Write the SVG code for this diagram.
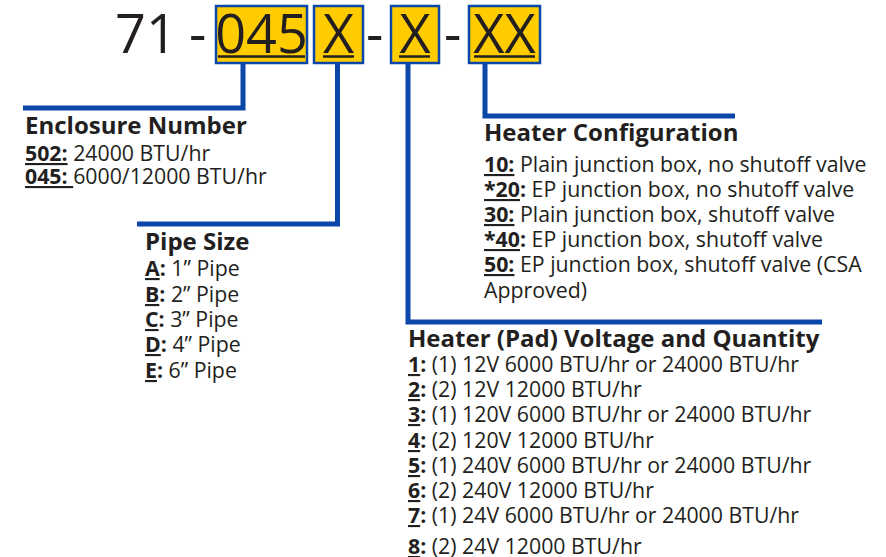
<svg xmlns="http://www.w3.org/2000/svg" width="886" height="557" viewBox="0 0 886 557">
<style>
text{font-family:"Open Sans","Noto Sans","DejaVu Sans",sans-serif;fill:#231f20}
.big{font-size:54px}
.box{fill:#ffcc00;stroke:#0a47a8;stroke-width:2.5}
.ul{stroke:#231f20;stroke-width:2.5}
.h{font-size:24px;font-weight:bold}
.b{font-size:21.3px}
.k{font-weight:bold;text-decoration:underline}
.con{fill:none;stroke:#0a47a8;stroke-width:5}
</style>
<rect width="886" height="557" fill="#fff"/>
<g id="code">
<text class="big" x="115" y="53">71</text>
<text class="big" x="189" y="53">-</text>
<text class="big" x="366" y="53">-</text>
<text class="big" x="444" y="53">-</text>
</g>
<g id="box-enclosure">
<rect class="box" x="216" y="6" width="91" height="57"/>
<text class="big" x="261.5" y="53" text-anchor="middle">045</text>
<line class="ul" x1="218" y1="56.5" x2="305" y2="56.5"/>
</g>
<g id="box-pipe">
<rect class="box" x="314" y="6" width="49" height="57"/>
<text class="big" x="338.5" y="53" text-anchor="middle">X</text>
<line class="ul" x1="323" y1="56.5" x2="354" y2="56.5"/>
</g>
<g id="box-voltage">
<rect class="box" x="391" y="6" width="48" height="57"/>
<text class="big" x="415" y="53" text-anchor="middle">X</text>
<line class="ul" x1="399" y1="56.5" x2="430" y2="56.5"/>
</g>
<g id="box-config">
<rect class="box" x="469" y="6" width="71" height="57"/>
<text class="big" x="504.5" y="53" text-anchor="middle">XX</text>
<line class="ul" x1="474" y1="56.5" x2="535" y2="56.5"/>
</g>
<g id="connectors">
<polyline class="con" points="243,64 243,108 23,108"/>
<polyline class="con" points="337.5,64 337.5,224 137,224"/>
<polyline class="con" points="408,64 408,322 822,322"/>
<polyline class="con" points="485,64 485,116 735,116"/>
</g>
<g id="enclosure-number">
<text class="h" x="25" y="134">Enclosure Number</text>
<text class="b" x="25" y="161"><tspan class="k">502:</tspan> 24000 BTU/hr</text>
<text class="b" x="25" y="184"><tspan class="k">045: </tspan>6000/12000 BTU/hr</text>
</g>
<g id="pipe-size">
<text class="h" x="145" y="250">Pipe Size</text>
<text class="b" x="145" y="276"><tspan class="k">A</tspan><tspan font-weight="bold">:</tspan> 1” Pipe</text>
<text class="b" x="145" y="302"><tspan class="k">B</tspan><tspan font-weight="bold">:</tspan> 2” Pipe</text>
<text class="b" x="145" y="327"><tspan class="k">C</tspan><tspan font-weight="bold">:</tspan> 3” Pipe</text>
<text class="b" x="145" y="352"><tspan class="k">D</tspan><tspan font-weight="bold">:</tspan> 4” Pipe</text>
<text class="b" x="145" y="378"><tspan class="k">E</tspan><tspan font-weight="bold">:</tspan> 6” Pipe</text>
</g>
<g id="heater-configuration">
<text class="h" x="484" y="141">Heater Configuration</text>
<text class="b" x="484" y="172"><tspan class="k">10:</tspan> Plain junction box, no shutoff valve</text>
<text class="b" x="484" y="197"><tspan class="k">*20</tspan><tspan font-weight="bold">:</tspan> EP junction box, no shutoff valve</text>
<text class="b" x="484" y="222"><tspan class="k">30:</tspan> Plain junction box, shutoff valve</text>
<text class="b" x="484" y="247"><tspan class="k">*40</tspan><tspan font-weight="bold">:</tspan> EP junction box, shutoff valve</text>
<text class="b" x="484" y="272"><tspan class="k">50:</tspan> EP junction box, shutoff valve (CSA</text>
<text class="b" x="484" y="298">Approved)</text>
</g>
<g id="heater-voltage">
<text class="h" x="408" y="347">Heater (Pad) Voltage and Quantity</text>
<text class="b" x="408" y="372"><tspan class="k">1</tspan><tspan font-weight="bold">:</tspan> (1) 12V 6000 BTU/hr or 24000 BTU/hr</text>
<text class="b" x="408" y="397"><tspan class="k">2</tspan><tspan font-weight="bold">:</tspan> (2) 12V 12000 BTU/hr</text>
<text class="b" x="408" y="422"><tspan class="k">3</tspan><tspan font-weight="bold">:</tspan> (1) 120V 6000 BTU/hr or 24000 BTU/hr</text>
<text class="b" x="408" y="448"><tspan class="k">4</tspan><tspan font-weight="bold">:</tspan> (2) 120V 12000 BTU/hr</text>
<text class="b" x="408" y="473"><tspan class="k">5</tspan><tspan font-weight="bold">:</tspan> (1) 240V 6000 BTU/hr or 24000 BTU/hr</text>
<text class="b" x="408" y="498"><tspan class="k">6</tspan><tspan font-weight="bold">:</tspan> (2) 240V 12000 BTU/hr</text>
<text class="b" x="408" y="523"><tspan class="k">7</tspan><tspan font-weight="bold">:</tspan> (1) 24V 6000 BTU/hr or 24000 BTU/hr</text>
<text class="b" x="408" y="554"><tspan class="k">8</tspan><tspan font-weight="bold">:</tspan> (2) 24V 12000 BTU/hr</text>
</g>
</svg>
